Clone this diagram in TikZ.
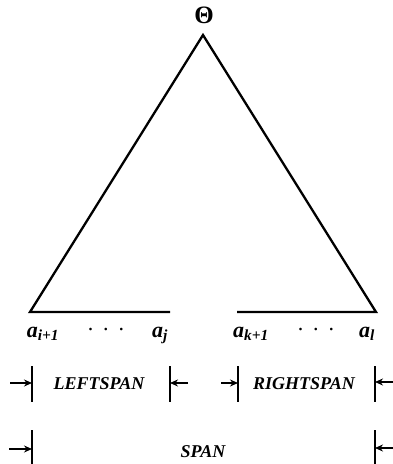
\documentclass[tikz,border=0pt]{standalone}
\usepackage{fontspec}
\setmainfont{Liberation Serif}
\usetikzlibrary{arrows.meta,positioning}

\newcommand{\leafsym}[1]{\textbf{\textit{a}}\textsubscript{\textbf{\textit{#1}}}}

\begin{document}
\begin{tikzpicture}[
            x=1pt, y=-1pt,
            edge/.style={line width=2.3pt, line join=miter},
            bar/.style={line width=2.2pt},
            dim/.style={-{Stealth[length=8pt,width=7pt]}, line width=1.8pt},
            leaf/.style={font=\fontsize{22}{24}\selectfont, anchor=base, inner sep=0pt},
            spanlbl/.style={font=\fontsize{18}{20}\selectfont\bfseries\itshape, inner sep=0pt}
            ]
            \useasboundingbox (0,0) rectangle (393,464);

            % tree
            \node[font=\fontsize{25}{27}\selectfont\bfseries] (root) at (204,15) {Θ};
            \coordinate (apex) at (203,35);
            \coordinate (bl) at (30,312);
            \coordinate (br) at (376,312);
            \coordinate (lend) at (170,312);
            \coordinate (rbeg) at (237,312);
            \draw[edge] (lend) -- (bl) -- (apex) -- (br) -- (rbeg);

            % leaves
            \node[leaf] (ai) at (43,337) {\leafsym{i+1}};
            \node[leaf] (ldots) at (106,330) {.\hspace{0.45em}.\hspace{0.45em}.};
            \node[leaf] (aj) at (160,337) {\leafsym{j}};
            \node[leaf] (ak) at (251,337) {\leafsym{k+1}};
            \node[leaf] (rdots) at (316,330) {.\hspace{0.45em}.\hspace{0.45em}.};
            \node[leaf] (al) at (367,337) {\leafsym{l}};

            % spans
            \node[spanlbl] (leftspan) at (99,384) {LEFTSPAN};
            \node[spanlbl] (rightspan) at (304,384) {RIGHTSPAN};
            \node[spanlbl] (span) at (203,452) {SPAN};

            \coordinate (l1t) at (32,366);   \coordinate (l1b) at (32,402);
            \coordinate (l2t) at (170,366);  \coordinate (l2b) at (170,402);
            \coordinate (r1t) at (238,366);  \coordinate (r1b) at (238,402);
            \coordinate (r2t) at (375,366);  \coordinate (r2b) at (375,402);
            \coordinate (s1t) at (32,430);   \coordinate (s1b) at (32,464);
            \coordinate (s2t) at (375,430);  \coordinate (s2b) at (375,464);
            \draw[bar] (l1t) -- (l1b);
            \draw[bar] (l2t) -- (l2b);
            \draw[bar] (r1t) -- (r1b);
            \draw[bar] (r2t) -- (r2b);
            \draw[bar] (s1t) -- (s1b);
            \draw[bar] (s2t) -- (s2b);

            \coordinate (l1a) at (10,383);
            \coordinate (l2a) at (188,383);
            \coordinate (r1a) at (221,383);
            \coordinate (r2a) at (393,382);
            \coordinate (s1a) at (9,449);
            \coordinate (s2a) at (393,448);
            \draw[dim] (l1a) -- (l1a -| l1t);
            \draw[dim] (l2a) -- (l2a -| l2t);
            \draw[dim] (r1a) -- (r1a -| r1t);
            \draw[dim] (r2a) -- (r2a -| r2t);
            \draw[dim] (s1a) -- (s1a -| s1t);
            \draw[dim] (s2a) -- (s2a -| s2t);
        \end{tikzpicture}
\end{document}
